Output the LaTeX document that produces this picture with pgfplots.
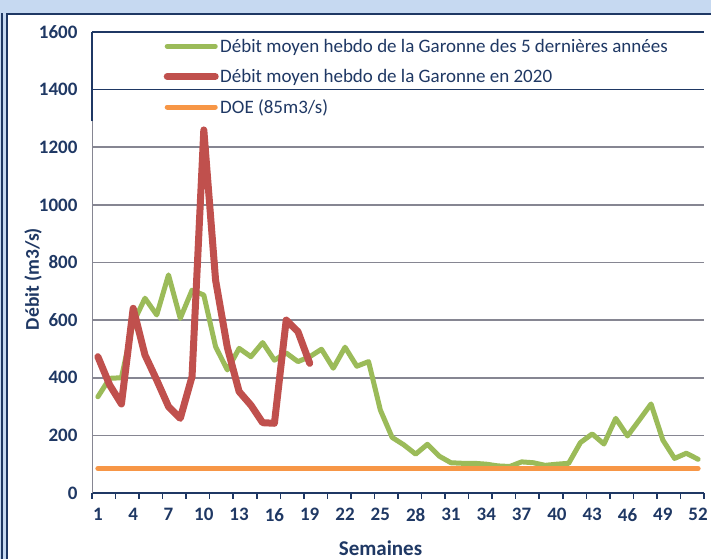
\documentclass[border=0pt]{standalone}
\usepackage{pgfplots}
\pgfplotsset{compat=1.18}
\usepackage{fontspec}
\setmainfont{Carlito}
\definecolor{navy}{RGB}{31,56,100}
\definecolor{bgblue}{RGB}{198,217,241}
\definecolor{xlgreen}{RGB}{155,187,89}
\definecolor{xlred}{RGB}{192,80,77}
\definecolor{xlorange}{RGB}{247,150,70}
\definecolor{gridgray}{RGB}{134,134,146}
\begin{document}
\begin{tikzpicture}
\useasboundingbox (0,0) rectangle (711pt,559pt);
\fill[bgblue] (0,0) rectangle (711pt,559pt);
\fill[white] (7pt,0) rectangle (711pt,545pt);
\draw[navy, line width=1.5pt] (7pt,0) -- (7pt,545pt) -- (711pt,545pt);
\draw[navy, line width=1.5pt] (2pt,0) -- (2pt,546pt);
\begin{axis}[
  at={(92pt,66pt)}, anchor=south west,
  width=612pt, height=461pt, scale only axis,
  xmin=0.5, xmax=52.5, ymin=0, ymax=1600,
  clip=false,
  axis x line*=bottom, axis y line*=left,
  axis line style={-},
  x axis line style={navy, line width=1.5pt},
  y axis line style={gridgray, line width=1pt},
  xtick={1,4,...,52},
  minor xtick={0.5,2.5,...,52.5},
  ytick={0,200,...,1200},
  extra y ticks={1400,1600},
  extra tick style={grid style={navy, line width=1.2pt}},
  ymajorgrids,
  grid style={gridgray, line width=1.6pt},
  major tick length=0pt,
  minor tick length=6pt,
  tick align=outside,
  every minor tick/.style={navy, line width=1.5pt},
  /pgf/number format/assume math mode=true,
  /pgf/number format/1000 sep={},
  ticklabel style={font=\fontsize{19}{22}\selectfont\bfseries, text=navy},
  yticklabel style={xshift=-11pt},
  xticklabel style={yshift=-12pt},
  legend cell align=left,
  legend style={draw=none, fill=none, at={(rel axis cs:0.112,0.993)}, anchor=north west,
    font=\fontsize{19}{22}\selectfont, text=navy, row sep=12.5pt, nodes={inner sep=1.5pt}},
  legend image code/.code={\draw[#1,line cap=round] (0pt,0pt) -- (48pt,0pt);},
]
\addplot[xlgreen, line width=5pt, line join=round, line cap=round] coordinates {
(1,334)(2,398)(3,400)(4,590)(5,676)(6,618)(7,757)(8,606)(9,704)(10,687)
(11,508)(12,427)(13,502)(14,473)(15,522)(16,461)(17,486)(18,456)(19,473)(20,499)
(21,433)(22,506)(23,440)(24,456)(25,288)(26,193)(27,167)(28,135)(29,169)(30,128)
(31,105)(32,103)(33,103)(34,100)(35,94)(36,92)(37,108)(38,105)(39,96)(40,100)
(41,103)(42,175)(43,205)(44,170)(45,259)(46,198)(47,253)(48,309)(49,184)(50,120)
(51,138)(52,117)};
\addlegendentry{Débit moyen hebdo de la Garonne des 5 dernières années}
\addplot[xlred, line width=7pt, line join=round, line cap=round] coordinates {
(1,473)(2,375)(3,309)(4,641)(5,479)(6,392)(7,300)(8,259)(9,404)(10,1260)
(11,739)(12,505)(13,352)(14,305)(15,244)(16,242)(17,600)(18,560)(19,450)};
\addlegendentry{Débit moyen hebdo de la Garonne en 2020}
\addplot[xlorange, line width=5pt, line cap=round] coordinates {(1,85)(52,85)};
\addlegendentry{DOE (85m3/s)}
\draw[navy, line width=1.2pt] (axis cs:0.5,1290) -- (axis cs:0.5,1600);
\end{axis}
\node[rotate=90, font=\fontsize{19.5}{22}\selectfont\bfseries, text=navy] at (33pt,280pt) {Débit (m3/s)};
\node[font=\fontsize{21}{24}\selectfont\bfseries, text=navy] at (380.5pt,11pt) {Semaines};
\end{tikzpicture}
\end{document}
